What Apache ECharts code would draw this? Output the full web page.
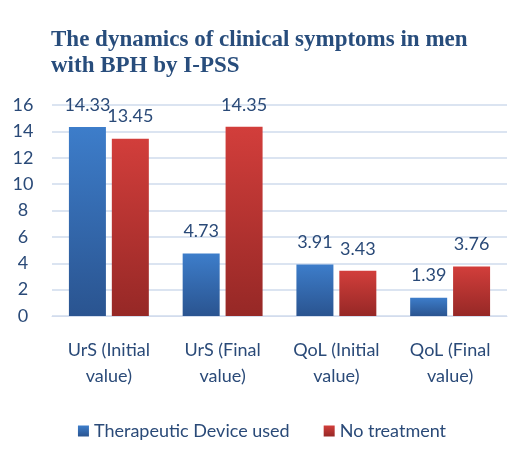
<!DOCTYPE html>
<html>
<head>
<meta charset="utf-8">
<script src="https://cdn.jsdelivr.net/npm/echarts@6/dist/echarts.min.js"></script>
<style>
  html, body { margin: 0; padding: 0; background: #fff; }
  #chart { width: 524px; height: 459px; }
</style>
</head>
<body>
<div id="chart"></div>
<script>
  // categories and values
  const categories = ['UrS (Initial\nvalue)', 'UrS (Final\nvalue)', 'QoL (Initial\nvalue)', 'QoL (Final\nvalue)'];
  const deviceUsed = [14.33, 4.73, 3.91, 1.39];
  const noTreatment = [13.45, 14.35, 3.43, 3.76];
  const yTicks = [0, 2, 4, 6, 8, 10, 12, 14, 16];

  const font = 'Lato, "Open Sans", sans-serif';
  const textColor = '#2a4a78';

  const chart = echarts.init(document.getElementById('chart'));

  function grad(top, bottom) {
    return new echarts.graphic.LinearGradient(0, 0, 0, 1, [
      { offset: 0, color: top },
      { offset: 1, color: bottom }
    ]);
  }

  const option = {
    animation: false,
    title: {
      text: 'The dynamics of clinical symptoms in men\nwith BPH by I-PSS',
      left: 46,
      top: 22,
      textStyle: {
        fontFamily: '"Liberation Serif", "DejaVu Serif", serif',
        fontWeight: 'bold',
        fontSize: 23,
        lineHeight: 26,
        color: '#284d7c'
      }
    },
    legend: {
      bottom: 14,
      left: 'center',
      itemWidth: 11,
      itemHeight: 11,
      itemGap: 34,
      icon: 'rect',
      textStyle: { fontFamily: font, fontSize: 18, color: textColor },
      data: ['Therapeutic Device used', 'No treatment']
    },
    grid: { left: 52, right: 17, top: 105, bottom: 143 },
    xAxis: {
      type: 'category',
      data: categories,
      axisLine: { show: true, lineStyle: { color: '#d3dced', width: 1 } },
      axisTick: { show: false },
      axisLabel: {
        fontFamily: font, fontSize: 18, color: textColor,
        lineHeight: 26, margin: 21, interval: 0
      }
    },
    yAxis: {
      type: 'value',
      min: yTicks[0],
      max: yTicks[yTicks.length - 1],
      interval: 2,
      axisLine: { show: false },
      axisTick: { show: false },
      axisLabel: { fontFamily: font, fontSize: 18, color: textColor, margin: 29, align: 'center' },
      splitLine: { lineStyle: { color: '#dbe4f1', width: 2 } }
    },
    series: [
      {
        name: 'Therapeutic Device used',
        type: 'bar',
        data: deviceUsed,
        barWidth: 37,
        barGap: '16%',
        itemStyle: { color: grad('#3d7dca', '#2a5490') },
        label: {
          show: true, position: 'top', distance: 13,
          fontFamily: font, fontSize: 18, color: textColor
        }
      },
      {
        name: 'No treatment',
        type: 'bar',
        data: noTreatment,
        barWidth: 37,
        itemStyle: { color: grad('#d23e3b', '#962826') },
        label: {
          show: true, position: 'top', distance: 13,
          fontFamily: font, fontSize: 18, color: textColor
        }
      }
    ]
  };

  chart.setOption(option);
</script>
</body>
</html>
